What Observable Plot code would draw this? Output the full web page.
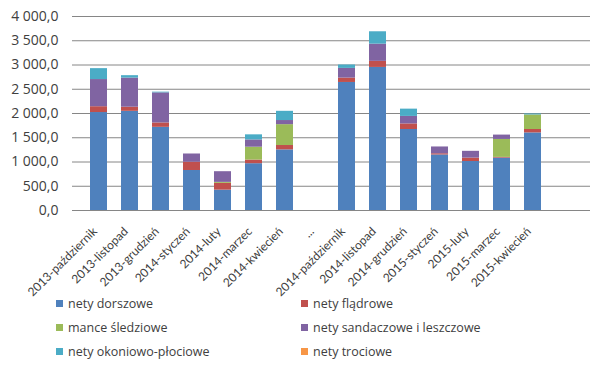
<!DOCTYPE html>
<html>
<head>
<meta charset="utf-8">
<script src="https://cdn.jsdelivr.net/npm/d3@7"></script>
<script src="https://cdn.jsdelivr.net/npm/@observablehq/plot@0.6"></script>
<style>
  html, body { margin: 0; padding: 0; background: #fff; }
  #wrap { position: relative; width: 604px; height: 365px; font-family: "Open Sans", "Noto Sans", sans-serif; color: #404040; }
  #wrap svg { position: absolute; left: 0; top: 0; }
  #legend { position: absolute; left: 0; top: 0; width: 604px; }
  .item { position: absolute; font-size: 12.5px; line-height: 16px; white-space: nowrap; }
  .sw { display: inline-block; width: 7px; height: 7px; margin-right: 5px; vertical-align: 1px; }
</style>
</head>
<body>
<div id="wrap"></div>
<script>
const categories = [
  "2013-październik", "2013-listopad", "2013-grudzień", "2014-styczeń", "2014-luty",
  "2014-marzec", "2014-kwiecień", "...", "2014-październik", "2014-listopad",
  "2014-grudzień", "2015-styczeń", "2015-luty", "2015-marzec", "2015-kwiecień", ""
];
const seriesNames = [
  "nety dorszowe", "nety flądrowe", "mance śledziowe",
  "nety sandaczowe i leszczowe", "nety okoniowo-płociowe", "nety trociowe"
];
const seriesColors = ["#4F81BD", "#C0504D", "#9BBB59", "#8064A2", "#4BACC6", "#F79646"];

const netyDorszowe  = [2020, 2045, 1715, 825, 420, 965, 1250, 0, 2640, 2950, 1670, 1145, 1010, 1080, 1600, 0];
const netyFladrowe  = [120, 85, 90, 170, 140, 75, 90, 0, 90, 125, 115, 25, 70, 15, 70, 0];
const manceSledziowe = [0, 0, 0, 0, 20, 265, 430, 0, 0, 0, 0, 0, 0, 370, 300, 0];
const netySandaczowe = [560, 600, 620, 170, 220, 150, 85, 0, 200, 355, 155, 140, 140, 90, 0, 0];
const netyOkoniowe  = [225, 50, 15, 0, 0, 105, 190, 0, 70, 255, 150, 0, 0, 0, 20, 0];
const netyTrociowe  = [0, 0, 0, 0, 0, 0, 0, 0, 0, 0, 0, 0, 0, 0, 0, 0];

const yTicks = [0, 500, 1000, 1500, 2000, 2500, 3000, 3500, 4000];

const seriesValues = [netyDorszowe, netyFladrowe, manceSledziowe, netySandaczowe, netyOkoniowe, netyTrociowe];
const data = [];
seriesNames.forEach((s, i) => {
  categories.forEach((c, j) => {
    data.push({category: c, series: s, value: seriesValues[i][j]});
  });
});

const locale = d3.formatLocale({decimal: ",", thousands: " ", grouping: [3], currency: ["", ""]});
const fmt = locale.format(",.1f");

const chart = Plot.plot({
  width: 604,
  height: 300,
  marginLeft: 72,
  marginRight: 14,
  marginTop: 16,
  marginBottom: 90,
  style: {fontFamily: "'Open Sans', 'Noto Sans', sans-serif", color: "#404040", background: "transparent"},
  x: {domain: categories, label: null, padding: 0.44},
  y: {domain: [0, 4000], label: null},
  color: {domain: seriesNames, range: seriesColors},
  marks: [
    Plot.ruleY(yTicks, {stroke: "#868686", strokeWidth: 1}),
    Plot.barY(data.filter(d => d.value > 0), {x: "category", y: "value", fill: "series", order: seriesNames}),
    Plot.axisY(yTicks, {tickSize: 0, tickPadding: 14, tickFormat: fmt, fontSize: 14, label: null}),
    Plot.axisX({tickSize: 0, tickPadding: 9, dx: -4, dy: 10, tickRotate: -45, fontSize: 12, fontFamily: "Lato", label: null})
  ]
});
const wrap = document.getElementById("wrap");
wrap.appendChild(chart);

const legend = document.createElement("div");
legend.id = "legend";
const legendPos = [[56, 296], [301, 296], [56, 320], [301, 320], [56, 344], [301, 344]];
seriesNames.forEach((s, i) => {
  const it = document.createElement("div");
  it.className = "item";
  it.style.left = legendPos[i][0] + "px";
  it.style.top = legendPos[i][1] + "px";
  it.innerHTML = `<span class="sw" style="background:${seriesColors[i]}"></span>${s}`;
  legend.appendChild(it);
});
wrap.appendChild(legend);
</script>
</body>
</html>
